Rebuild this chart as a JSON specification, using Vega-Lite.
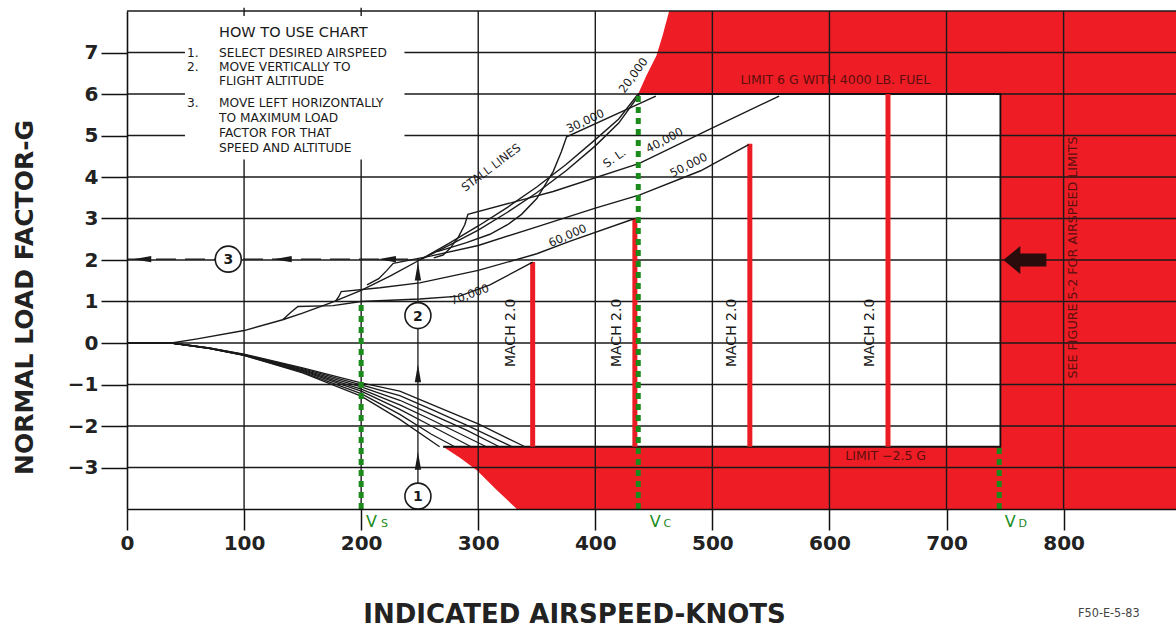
{
 "$schema": "https://vega.github.io/schema/vega-lite/v6.json",
 "width": 1049, "height": 498,
 "autosize": {"type": "none"},
 "padding": {"left": 127, "top": 11, "right": 0, "bottom": 121},
 "background": "white",
 "config": {"view": {"stroke": null}},
 "layer": [
  {
   "data": {"values": [
    {"r": "top", "x": 436.6, "lo": 6, "hi": 6},
    {"r": "top", "x": 443.8, "lo": 6, "hi": 6.45},
    {"r": "top", "x": 452.3, "lo": 6, "hi": 6.93},
    {"r": "top", "x": 457.5, "lo": 6, "hi": 7.41},
    {"r": "top", "x": 463.1, "lo": 6, "hi": 8},
    {"r": "top", "x": 896, "lo": 6, "hi": 8},
    {"r": "right", "x": 746, "lo": -4, "hi": 8},
    {"r": "right", "x": 896, "lo": -4, "hi": 8},
    {"r": "bottom", "x": 270, "lo": -2.5, "hi": -2.5},
    {"r": "bottom", "x": 285, "lo": -2.78, "hi": -2.5},
    {"r": "bottom", "x": 299, "lo": -3.07, "hi": -2.5},
    {"r": "bottom", "x": 316, "lo": -3.55, "hi": -2.5},
    {"r": "bottom", "x": 333, "lo": -4, "hi": -2.5},
    {"r": "bottom", "x": 896, "lo": -4, "hi": -2.5}
   ]},
   "mark": {"type": "area", "color": "#ee1c24", "interpolate": "linear", "opacity": 1},
   "encoding": {
    "x": {"field": "x", "type": "quantitative", "scale": {"domain": [0, 896], "nice": false, "zero": false},
     "axis": {"values": [0, 100, 200, 300, 400, 500, 600, 700, 800], "grid": false, "tickSize": 21, "tickWidth": 1.5, "tickColor": "#111", "domainColor": "#111", "domainWidth": 1.6,
      "labelFont": "DejaVu Sans", "labelFontWeight": "bold", "labelFontSize": 20, "labelColor": "#222", "labelPadding": 3, "labelFlush": false,
      "title": "INDICATED  AIRSPEED-KNOTS", "titleFont": "DejaVu Sans", "titleFontWeight": "bold", "titleFontSize": 26, "titleColor": "#222",
      "titleX": 447, "titleY": 113, "titleBaseline": "alphabetic", "titleAlign": "center", "titleAnchor": null, "zindex": 1}},
    "y": {"field": "lo", "type": "quantitative", "scale": {"domain": [-4, 8], "nice": false, "zero": false},
     "axis": {"values": [-3, -2, -1, 0, 1, 2, 3, 4, 5, 6, 7], "grid": false, "tickSize": 26, "tickWidth": 1.5, "tickColor": "#111", "domainColor": "#111", "domainWidth": 1.6,
      "labelFont": "DejaVu Sans", "labelFontWeight": "bold", "labelFontSize": 20, "labelColor": "#222", "labelPadding": 3, "labelFlush": false,
      "title": "NORMAL LOAD FACTOR-G", "titleFont": "DejaVu Sans", "titleFontWeight": "bold", "titleFontSize": 25, "titleColor": "#222",
      "titleX": -95, "titleY": 286, "titleAngle": -90, "titleBaseline": "alphabetic", "titleAlign": "center", "titleAnchor": null, "zindex": 1}},
    "y2": {"field": "hi"},
    "detail": {"field": "r"}
   }
  },
  {
   "data": {"values": [{"gx": 100}, {"gx": 200}, {"gx": 300}, {"gx": 400}, {"gx": 500}, {"gx": 600}, {"gx": 700}, {"gx": 800}]},
   "mark": {"type": "rule", "color": "#1a1a1a", "strokeWidth": 1.4},
   "encoding": {"x": {"field": "gx", "type": "quantitative"}}
  },
  {
   "data": {"values": [{"gy": -3}, {"gy": -2}, {"gy": -1}, {"gy": 0}, {"gy": 1}, {"gy": 2}, {"gy": 3}, {"gy": 4}, {"gy": 5}, {"gy": 6}, {"gy": 7}, {"gy": 8}]},
   "mark": {"type": "rule", "color": "#1a1a1a", "strokeWidth": 1.4},
   "encoding": {"y": {"field": "gy", "type": "quantitative"}}
  },
  {
   "data": {"values": [{"x1": 49.5, "x2": 237, "y1": 4.42, "y2": 7.88}]},
   "mark": {"type": "rect", "fill": "white"},
   "encoding": {"x": {"field": "x1", "type": "quantitative"}, "x2": {"field": "x2"}, "y": {"field": "y1", "type": "quantitative"}, "y2": {"field": "y2"}}
  },
  {
   "data": {"values": [{"x": 100, "y": 8, "y2": 8.08}, {"x": 200, "y": 8, "y2": 8.08}]},
   "mark": {"type": "rule", "color": "#1a1a1a", "strokeWidth": 1.4},
   "encoding": {"x": {"field": "x", "type": "quantitative"}, "y": {"field": "y", "type": "quantitative"}, "y2": {"field": "y2"}}
  },
  {
   "data": {"values": [{"o": 1, "x": 436.6, "y": 6}, {"o": 2, "x": 746, "y": 6}, {"o": 3, "x": 746, "y": -2.5}, {"o": 4, "x": 270, "y": -2.5}]},
   "mark": {"type": "line", "color": "#111", "strokeWidth": 1.8},
   "encoding": {"x": {"field": "x", "type": "quantitative"}, "y": {"field": "y", "type": "quantitative"}, "order": {"field": "o"}}
  },
  {
   "data": {"values": [{"x": 346.5, "y": -2.5, "y2": 1.95}, {"x": 433.8, "y": -2.5, "y2": 3.0}, {"x": 532, "y": -2.5, "y2": 4.8}, {"x": 650, "y": -2.5, "y2": 6}]},
   "mark": {"type": "rule", "color": "#ec1c24", "strokeWidth": 5},
   "encoding": {"x": {"field": "x", "type": "quantitative"}, "y": {"field": "y", "type": "quantitative"}, "y2": {"field": "y2"}}
  },
  {
   "data": {"values": [
    {"s": "n1", "x": 0, "y": 0}, {"s": "n1", "x": 38, "y": 0}, {"s": "n1", "x": 70, "y": -0.13}, {"s": "n1", "x": 100, "y": -0.3}, {"s": "n1", "x": 150, "y": -0.72}, {"s": "n1", "x": 200, "y": -1.28}, {"s": "n1", "x": 233, "y": -1.84}, {"s": "n1", "x": 267, "y": -2.5},
    {"s": "n2", "x": 0, "y": 0}, {"s": "n2", "x": 38, "y": 0}, {"s": "n2", "x": 70, "y": -0.13}, {"s": "n2", "x": 100, "y": -0.3}, {"s": "n2", "x": 150, "y": -0.7}, {"s": "n2", "x": 200, "y": -1.22}, {"s": "n2", "x": 233, "y": -1.72}, {"s": "n2", "x": 260, "y": -2.2}, {"s": "n2", "x": 280, "y": -2.5},
    {"s": "n3", "x": 0, "y": 0}, {"s": "n3", "x": 38, "y": 0}, {"s": "n3", "x": 70, "y": -0.13}, {"s": "n3", "x": 100, "y": -0.29}, {"s": "n3", "x": 150, "y": -0.68}, {"s": "n3", "x": 200, "y": -1.16}, {"s": "n3", "x": 233, "y": -1.6}, {"s": "n3", "x": 260, "y": -2.0}, {"s": "n3", "x": 294, "y": -2.5},
    {"s": "n4", "x": 0, "y": 0}, {"s": "n4", "x": 38, "y": 0}, {"s": "n4", "x": 70, "y": -0.13}, {"s": "n4", "x": 100, "y": -0.29}, {"s": "n4", "x": 150, "y": -0.66}, {"s": "n4", "x": 200, "y": -1.11}, {"s": "n4", "x": 233, "y": -1.49}, {"s": "n4", "x": 260, "y": -1.85}, {"s": "n4", "x": 307, "y": -2.5},
    {"s": "n5", "x": 0, "y": 0}, {"s": "n5", "x": 38, "y": 0}, {"s": "n5", "x": 70, "y": -0.12}, {"s": "n5", "x": 100, "y": -0.28}, {"s": "n5", "x": 150, "y": -0.64}, {"s": "n5", "x": 200, "y": -1.06}, {"s": "n5", "x": 233, "y": -1.38}, {"s": "n5", "x": 260, "y": -1.72}, {"s": "n5", "x": 290, "y": -2.1}, {"s": "n5", "x": 318, "y": -2.5},
    {"s": "n6", "x": 0, "y": 0}, {"s": "n6", "x": 38, "y": 0}, {"s": "n6", "x": 70, "y": -0.12}, {"s": "n6", "x": 100, "y": -0.28}, {"s": "n6", "x": 150, "y": -0.62}, {"s": "n6", "x": 200, "y": -1.01}, {"s": "n6", "x": 233, "y": -1.27}, {"s": "n6", "x": 260, "y": -1.6}, {"s": "n6", "x": 290, "y": -1.98}, {"s": "n6", "x": 329, "y": -2.5},
    {"s": "n7", "x": 0, "y": 0}, {"s": "n7", "x": 38, "y": 0}, {"s": "n7", "x": 70, "y": -0.12}, {"s": "n7", "x": 100, "y": -0.27}, {"s": "n7", "x": 150, "y": -0.6}, {"s": "n7", "x": 200, "y": -0.96}, {"s": "n7", "x": 233, "y": -1.16}, {"s": "n7", "x": 260, "y": -1.48}, {"s": "n7", "x": 300, "y": -1.95}, {"s": "n7", "x": 340, "y": -2.5}
   ]},
   "mark": {"type": "line", "color": "#1a1a1a", "strokeWidth": 1.3},
   "encoding": {"x": {"field": "x", "type": "quantitative"}, "y": {"field": "y", "type": "quantitative"}, "detail": {"field": "s"}}
  },
  {
   "data": {"values": [
    {"s": "base", "x": 0, "y": 0}, {"s": "base", "x": 38, "y": 0}, {"s": "base", "x": 60, "y": 0.1}, {"s": "base", "x": 100, "y": 0.3}, {"s": "base", "x": 133, "y": 0.56}, {"s": "base", "x": 150, "y": 0.72}, {"s": "base", "x": 175, "y": 0.98}, {"s": "base", "x": 200, "y": 1.27}, {"s": "base", "x": 225, "y": 1.62}, {"s": "base", "x": 250, "y": 2.0},
    {"s": "20k", "x": 250, "y": 2.0}, {"s": "20k", "x": 275, "y": 2.4}, {"s": "20k", "x": 300, "y": 2.82}, {"s": "20k", "x": 325, "y": 3.27}, {"s": "20k", "x": 350, "y": 3.76}, {"s": "20k", "x": 375, "y": 4.3}, {"s": "20k", "x": 400, "y": 4.9}, {"s": "20k", "x": 420, "y": 5.4}, {"s": "20k", "x": 436.6, "y": 6.0},
    {"s": "SL", "x": 250, "y": 2.0}, {"s": "SL", "x": 275, "y": 2.35}, {"s": "SL", "x": 300, "y": 2.72}, {"s": "SL", "x": 325, "y": 3.15}, {"s": "SL", "x": 350, "y": 3.62}, {"s": "SL", "x": 375, "y": 4.15}, {"s": "SL", "x": 400, "y": 4.75}, {"s": "SL", "x": 420, "y": 5.3}, {"s": "SL", "x": 438, "y": 6.0},
    {"s": "30k", "x": 265, "y": 2.2}, {"s": "30k", "x": 290, "y": 2.42}, {"s": "30k", "x": 310, "y": 2.62}, {"s": "30k", "x": 325, "y": 2.85}, {"s": "30k", "x": 337, "y": 3.1}, {"s": "30k", "x": 350, "y": 3.48}, {"s": "30k", "x": 364, "y": 4.13}, {"s": "30k", "x": 371, "y": 4.61}, {"s": "30k", "x": 375.5, "y": 4.97}, {"s": "30k", "x": 451.7, "y": 5.95},
    {"s": "40k", "x": 262, "y": 2.05}, {"s": "40k", "x": 270, "y": 2.12}, {"s": "40k", "x": 276, "y": 2.28}, {"s": "40k", "x": 283, "y": 2.55}, {"s": "40k", "x": 288.5, "y": 2.85}, {"s": "40k", "x": 291.2, "y": 3.1}, {"s": "40k", "x": 364, "y": 3.65}, {"s": "40k", "x": 437.6, "y": 4.33}, {"s": "40k", "x": 497, "y": 5.14}, {"s": "40k", "x": 557, "y": 5.95},
    {"s": "50k", "x": 205, "y": 1.4}, {"s": "50k", "x": 215, "y": 1.55}, {"s": "50k", "x": 222, "y": 1.75}, {"s": "50k", "x": 227.4, "y": 1.92}, {"s": "50k", "x": 260, "y": 2.1}, {"s": "50k", "x": 300, "y": 2.35}, {"s": "50k", "x": 350, "y": 2.8}, {"s": "50k", "x": 400, "y": 3.25}, {"s": "50k", "x": 438, "y": 3.57}, {"s": "50k", "x": 490, "y": 4.15}, {"s": "50k", "x": 531, "y": 4.78},
    {"s": "60k", "x": 178, "y": 1.0}, {"s": "60k", "x": 181, "y": 1.12}, {"s": "60k", "x": 183, "y": 1.24}, {"s": "60k", "x": 216, "y": 1.33}, {"s": "60k", "x": 250, "y": 1.45}, {"s": "60k", "x": 300, "y": 1.75}, {"s": "60k", "x": 350, "y": 2.15}, {"s": "60k", "x": 378, "y": 2.45}, {"s": "60k", "x": 433.8, "y": 3.0},
    {"s": "70k", "x": 133, "y": 0.56}, {"s": "70k", "x": 140, "y": 0.74}, {"s": "70k", "x": 146, "y": 0.88}, {"s": "70k", "x": 176, "y": 0.9}, {"s": "70k", "x": 200, "y": 1.0}, {"s": "70k", "x": 250, "y": 1.06}, {"s": "70k", "x": 284, "y": 1.13}, {"s": "70k", "x": 310, "y": 1.4}, {"s": "70k", "x": 346.5, "y": 1.95}
   ]},
   "mark": {"type": "line", "color": "#1a1a1a", "strokeWidth": 1.4},
   "encoding": {"x": {"field": "x", "type": "quantitative"}, "y": {"field": "y", "type": "quantitative"}, "detail": {"field": "s"}}
  },
  {
   "data": {"values": [{"x": 200, "y": -4, "y2": 1.0}, {"x": 436.7, "y": -4, "y2": 6.0}, {"x": 745, "y": -4, "y2": -2.5}]},
   "mark": {"type": "rule", "color": "#1b8c1b", "strokeWidth": 5, "strokeDash": [6, 5], "strokeCap": "butt"},
   "encoding": {"x": {"field": "x", "type": "quantitative"}, "y": {"field": "y", "type": "quantitative"}, "y2": {"field": "y2"}}
  },
  {
   "data": {"values": [{"x": 0, "x2": 248.5, "y": 2.02}]},
   "mark": {"type": "rule", "color": "#1a1a1a", "strokeWidth": 1.4, "strokeDash": [20, 9]},
   "encoding": {"x": {"field": "x", "type": "quantitative"}, "x2": {"field": "x2"}, "y": {"field": "y", "type": "quantitative"}}
  },
  {
   "data": {"values": [{"x": 248.5, "y": -4, "y2": 2.02}]},
   "mark": {"type": "rule", "color": "#1a1a1a", "strokeWidth": 1.3},
   "encoding": {"x": {"field": "x", "type": "quantitative"}, "y": {"field": "y", "type": "quantitative"}, "y2": {"field": "y2"}}
  },
  {
   "data": {"values": [{"x": 13, "y": 2.02}, {"x": 133, "y": 2.02}, {"x": 222, "y": 2.02}]},
   "mark": {"type": "point", "shape": "M 1 -0.35 L -1 0 L 1 0.35 Z", "size": 324, "filled": true, "color": "#1a1a1a", "opacity": 1},
   "encoding": {"x": {"field": "x", "type": "quantitative"}, "y": {"field": "y", "type": "quantitative"}}
  },
  {
   "data": {"values": [{"x": 248.5, "y": 1.72}, {"x": 248.5, "y": -0.73}, {"x": 248.5, "y": -2.84}]},
   "mark": {"type": "point", "shape": "M -0.35 1 L 0 -1 L 0.35 1 Z", "size": 324, "filled": true, "color": "#1a1a1a", "opacity": 1},
   "encoding": {"x": {"field": "x", "type": "quantitative"}, "y": {"field": "y", "type": "quantitative"}}
  },
  {
   "data": {"values": [{"x": 86.5, "y": 2.02, "t": "3"}, {"x": 248.5, "y": 0.66, "t": "2"}, {"x": 248.5, "y": -3.69, "t": "1"}]},
   "layer": [
    {"mark": {"type": "point", "shape": "circle", "size": 676, "filled": true, "fill": "white", "stroke": "#1a1a1a", "strokeWidth": 1.6, "opacity": 1},
     "encoding": {"x": {"field": "x", "type": "quantitative"}, "y": {"field": "y", "type": "quantitative"}}},
    {"mark": {"type": "text", "font": "DejaVu Sans", "fontWeight": "bold", "fontSize": 14, "color": "#1a1a1a", "baseline": "middle", "align": "center", "dy": 1},
     "encoding": {"x": {"field": "x", "type": "quantitative"}, "y": {"field": "y", "type": "quantitative"}, "text": {"field": "t"}}}
   ]
  },
  {
   "data": {"values": [{"x": 766.9, "y": 2.0}]},
   "mark": {"type": "point", "shape": "M -1 0 L -0.21 -0.65 L -0.21 -0.3 L 1 -0.3 L 1 0.3 L -0.21 0.3 L -0.21 0.65 Z", "size": 1849, "filled": true, "color": "#2a0c0c", "opacity": 1},
   "encoding": {"x": {"field": "x", "type": "quantitative"}, "y": {"field": "y", "type": "quantitative"}}
  },
  {
   "data": {"values": [{"x": 78.6, "y": 7.47, "t": "HOW TO USE CHART"}]},
   "mark": {"type": "text", "font": "DejaVu Sans", "fontSize": 14.5, "color": "#1a1a1a", "align": "left", "baseline": "middle"},
   "encoding": {"x": {"field": "x", "type": "quantitative"}, "y": {"field": "y", "type": "quantitative"}, "text": {"field": "t"}}
  },
  {
   "data": {"values": [
    {"x": 51.2, "y": 6.99, "t": "1."}, {"x": 51.2, "y": 6.66, "t": "2."}, {"x": 51.2, "y": 5.79, "t": "3."},
    {"x": 78.6, "y": 6.99, "t": "SELECT DESIRED AIRSPEED"}, {"x": 78.6, "y": 6.66, "t": "MOVE VERTICALLY TO"}, {"x": 78.6, "y": 6.31, "t": "FLIGHT ALTITUDE"},
    {"x": 78.6, "y": 5.79, "t": "MOVE LEFT HORIZONTALLY"}, {"x": 78.6, "y": 5.43, "t": "TO MAXIMUM LOAD"}, {"x": 78.6, "y": 5.07, "t": "FACTOR FOR THAT"}, {"x": 78.6, "y": 4.69, "t": "SPEED AND ALTITUDE"}
   ]},
   "mark": {"type": "text", "font": "DejaVu Sans", "fontSize": 12.2, "color": "#1a1a1a", "align": "left", "baseline": "middle"},
   "encoding": {"x": {"field": "x", "type": "quantitative"}, "y": {"field": "y", "type": "quantitative"}, "text": {"field": "t"}}
  },
  {"data": {"values": [{"x": 311.4, "y": 4.21, "t": "STALL LINES"}]}, "mark": {"type": "text", "font": "DejaVu Sans", "fontSize": 11.5, "angle": -37, "color": "#1a1a1a", "align": "center", "baseline": "middle"}, "encoding": {"x": {"field": "x", "type": "quantitative"}, "y": {"field": "y", "type": "quantitative"}, "text": {"field": "t"}}},
  {"data": {"values": [{"x": 391.8, "y": 5.33, "t": "30,000"}]}, "mark": {"type": "text", "font": "DejaVu Sans", "fontSize": 11.5, "angle": -25, "color": "#1a1a1a", "align": "center", "baseline": "middle"}, "encoding": {"x": {"field": "x", "type": "quantitative"}, "y": {"field": "y", "type": "quantitative"}, "text": {"field": "t"}}},
  {"data": {"values": [{"x": 433, "y": 6.44, "t": "20,000"}]}, "mark": {"type": "text", "font": "DejaVu Sans", "fontSize": 11.5, "angle": -54, "color": "#1a1a1a", "align": "center", "baseline": "middle"}, "encoding": {"x": {"field": "x", "type": "quantitative"}, "y": {"field": "y", "type": "quantitative"}, "text": {"field": "t"}}},
  {"data": {"values": [{"x": 416.7, "y": 4.44, "t": "S. L."}]}, "mark": {"type": "text", "font": "DejaVu Sans", "fontSize": 11.5, "angle": -35, "color": "#1a1a1a", "align": "center", "baseline": "middle"}, "encoding": {"x": {"field": "x", "type": "quantitative"}, "y": {"field": "y", "type": "quantitative"}, "text": {"field": "t"}}},
  {"data": {"values": [{"x": 459.4, "y": 4.87, "t": "40,000"}]}, "mark": {"type": "text", "font": "DejaVu Sans", "fontSize": 11.5, "angle": -28, "color": "#1a1a1a", "align": "center", "baseline": "middle"}, "encoding": {"x": {"field": "x", "type": "quantitative"}, "y": {"field": "y", "type": "quantitative"}, "text": {"field": "t"}}},
  {"data": {"values": [{"x": 480, "y": 4.27, "t": "50,000"}]}, "mark": {"type": "text", "font": "DejaVu Sans", "fontSize": 11.5, "angle": -27, "color": "#1a1a1a", "align": "center", "baseline": "middle"}, "encoding": {"x": {"field": "x", "type": "quantitative"}, "y": {"field": "y", "type": "quantitative"}, "text": {"field": "t"}}},
  {"data": {"values": [{"x": 376.6, "y": 2.57, "t": "60,000"}]}, "mark": {"type": "text", "font": "DejaVu Sans", "fontSize": 11.5, "angle": -24, "color": "#1a1a1a", "align": "center", "baseline": "middle"}, "encoding": {"x": {"field": "x", "type": "quantitative"}, "y": {"field": "y", "type": "quantitative"}, "text": {"field": "t"}}},
  {"data": {"values": [{"x": 292.9, "y": 1.15, "t": "70,000"}]}, "mark": {"type": "text", "font": "DejaVu Sans", "fontSize": 11.5, "angle": -20, "color": "#1a1a1a", "align": "center", "baseline": "middle"}, "encoding": {"x": {"field": "x", "type": "quantitative"}, "y": {"field": "y", "type": "quantitative"}, "text": {"field": "t"}}},
  {
   "data": {"values": [{"x": 327.9, "y": 0.245, "t": "MACH 2.0"}, {"x": 418.2, "y": 0.245, "t": "MACH 2.0"}, {"x": 516.4, "y": 0.245, "t": "MACH 2.0"}, {"x": 634.5, "y": 0.245, "t": "MACH 2.0"}]},
   "mark": {"type": "text", "font": "DejaVu Sans", "fontSize": 14, "angle": -90, "color": "#1a1a1a", "align": "center", "baseline": "middle"},
   "encoding": {"x": {"field": "x", "type": "quantitative"}, "y": {"field": "y", "type": "quantitative"}, "text": {"field": "t"}}
  },
  {
   "data": {"values": [{"x": 605, "y": 6.33, "t": "LIMIT 6 G WITH 4000 LB. FUEL"}, {"x": 648, "y": -2.73, "t": "LIMIT −2.5 G"}]},
   "mark": {"type": "text", "font": "DejaVu Sans", "fontSize": 12.5, "color": "#5b0f0f", "align": "center", "baseline": "middle"},
   "encoding": {"x": {"field": "x", "type": "quantitative"}, "y": {"field": "y", "type": "quantitative"}, "text": {"field": "t"}}
  },
  {
   "data": {"values": [{"x": 807.9, "y": 2.06, "t": "SEE FIGURE 5-2 FOR AIRSPEED LIMITS"}]},
   "mark": {"type": "text", "font": "DejaVu Sans", "fontSize": 12.7, "angle": -90, "color": "#5b0f0f", "align": "center", "baseline": "middle"},
   "encoding": {"x": {"field": "x", "type": "quantitative"}, "y": {"field": "y", "type": "quantitative"}, "text": {"field": "t"}}
  },
  {
   "data": {"values": [{"x": 204.1, "y": -4.44, "t": "V"}, {"x": 446.6, "y": -4.44, "t": "V"}, {"x": 749.8, "y": -4.44, "t": "V"}]},
   "mark": {"type": "text", "font": "DejaVu Sans", "fontSize": 16, "color": "#1b8c1b", "align": "left", "baseline": "alphabetic"},
   "encoding": {"x": {"field": "x", "type": "quantitative"}, "y": {"field": "y", "type": "quantitative"}, "text": {"field": "t"}}
  },
  {
   "data": {"values": [{"x": 216.9, "y": -4.44, "t": "S"}, {"x": 458.2, "y": -4.44, "t": "C"}, {"x": 761.4, "y": -4.44, "t": "D"}]},
   "mark": {"type": "text", "font": "DejaVu Sans", "fontSize": 11, "color": "#1b8c1b", "align": "left", "baseline": "alphabetic"},
   "encoding": {"x": {"field": "x", "type": "quantitative"}, "y": {"field": "y", "type": "quantitative"}, "text": {"field": "t"}}
  },
  {
   "data": {"values": [{"x": 812.4, "y": -6.61, "t": "F50-E-5-83"}]},
   "mark": {"type": "text", "font": "DejaVu Sans Condensed, Liberation Sans Narrow, Liberation Sans", "fontSize": 12.5, "color": "#444", "align": "left", "baseline": "alphabetic"},
   "encoding": {"x": {"field": "x", "type": "quantitative"}, "y": {"field": "y", "type": "quantitative"}, "text": {"field": "t"}}
  }
 ]
}
